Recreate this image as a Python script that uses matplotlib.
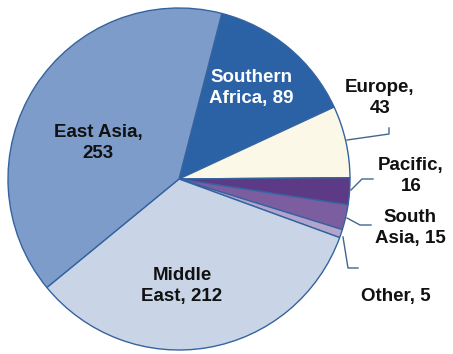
import matplotlib
matplotlib.use("Agg")
import matplotlib.pyplot as plt
import matplotlib.transforms as mtrans

plt.rcParams["font.family"] = ["Liberation Sans", "DejaVu Sans"]

regions = ["Southern Africa", "Europe", "Pacific", "South Asia", "Other", "Middle East", "East Asia"]
values = [89, 43, 16, 15, 5, 212, 253]
colors = ["#2b62a6", "#fcf8e8", "#5c3a86", "#7c5ea0", "#b3a4cc", "#c9d5e6", "#7d9cca"]
# how each label wraps
label_text = ["Southern\nAfrica, %d", "Europe,\n%d", "Pacific,\n%d", "South\nAsia, %d",
              "Other, %d", "Middle\nEast, %d", "East Asia,\n%d"]

W, H = 453, 354
fig = plt.figure(figsize=(W / 100, H / 100), dpi=100)
ax = fig.add_axes([0, 0, 1, 1])

cx, cy, r = 179, 179, 171
wedges, _ = ax.pie(values, colors=colors, startangle=75.5, counterclock=False,
                   center=(cx, -cy), radius=r,
                   wedgeprops=dict(edgecolor="#3563a0", linewidth=1.0))
# work in pixel coords with y pointing down
flip = mtrans.Affine2D().scale(1, -1) + ax.transData
for w in wedges:
    w.set_transform(flip)
ax.set_xlim(0, W)
ax.set_ylim(H, 0)
ax.set_aspect("auto")
ax.axis("off")

# label text positions (pixel coords) and colours
label_pos = [(251, 88, "white"), (380, 98, "#111111"), (411, 176, "#111111"),
             (410, 228, "#111111"), (396, 297, "#111111"), (182, 286, "#111111"),
             (98, 143, "#111111")]
for fmt, v, (x, y, c) in zip(label_text, values, label_pos):
    ax.text(x, y, fmt % v, ha="center", va="center", fontsize=13.5, fontweight="bold",
            color=c, linespacing=1.3)

# leader lines
lc = "#44658f"
leaders = [
    [(347, 140), (389, 134), (389, 128)],
    [(351, 190), (362, 179), (373, 179)],
    [(347, 218), (360, 225), (371, 225)],
    [(343, 237), (348, 268), (358, 268)],
]
for pts in leaders:
    xs, ys = zip(*pts)
    ax.plot(xs, ys, color=lc, linewidth=1.0)

fig.savefig("out.png", dpi=100)
